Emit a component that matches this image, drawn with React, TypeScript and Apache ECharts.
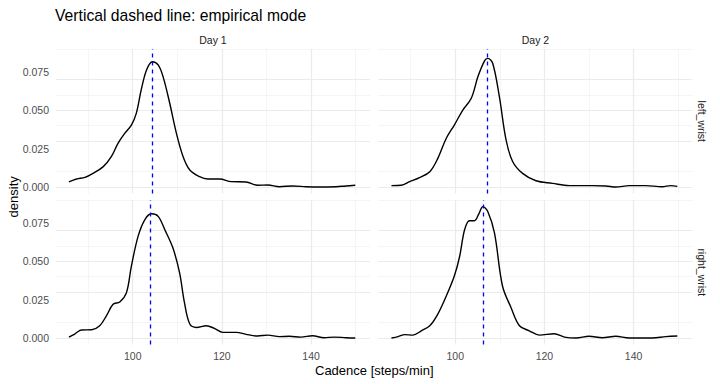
import React, { useEffect, useRef } from "react";
import * as echarts from "echarts";

// ---- Data ----
const days = ["Day 1", "Day 2"];
const wrists = ["left_wrist", "right_wrist"];
const xTickLabels = [100, 120, 140];
const yTickLabels = [0, 0.025, 0.05, 0.075];
const xGridMajor = [100, 120, 140];
const xGridMinor = [90, 110, 130, 150];
const yGridMajor = [0, 0.025, 0.05, 0.075];
const yGridMinor = [0.0125, 0.0375, 0.0625, 0.0875];

const leftDay1X = [85.7, 87.4, 89.3, 91.1, 93.4, 95.2, 96.7, 98.2, 99.7, 100.8, 101.9, 103.1, 104.4, 105.7, 106.8, 108.3, 109.8, 111.3, 112.8, 115.0, 116.8, 119.5, 122.1, 125.4, 128.0, 130.3, 132.9, 135.9, 138.9, 141.8, 145.6, 147.8, 149.9];
const leftDay1Y = [0.0033, 0.0052, 0.0063, 0.0089, 0.0133, 0.0198, 0.0285, 0.035, 0.0404, 0.048, 0.0633, 0.0763, 0.0817, 0.0796, 0.072, 0.0546, 0.035, 0.0198, 0.0111, 0.0067, 0.0052, 0.0052, 0.0035, 0.0033, 0.0011, 0.0013, 0.0002, 0.0007, 0.0002, 0.0, 0.0002, 0.0007, 0.0011];

const leftDay2X = [85.7, 87.9, 89.8, 92.0, 94.3, 96.1, 98.0, 99.8, 101.7, 103.6, 105.1, 106.6, 107.3, 108.4, 109.9, 111.4, 112.9, 115.1, 118.1, 121.8, 125.6, 130.8, 133.8, 136.0, 139.0, 142.7, 146.4, 148.3, 149.8];
const leftDay2Y = [0.0009, 0.0011, 0.0035, 0.0061, 0.01, 0.0187, 0.0318, 0.0404, 0.0502, 0.0579, 0.072, 0.0824, 0.0839, 0.0807, 0.0589, 0.0307, 0.0165, 0.0089, 0.0041, 0.0024, 0.0009, 0.0009, 0.0007, 0.0, 0.0009, 0.0009, 0.0002, 0.0009, 0.0004];

const rightDay1X = [85.7, 87.0, 88.5, 90.8, 92.6, 94.1, 95.6, 97.1, 98.6, 99.7, 101.2, 102.7, 104.2, 105.7, 107.2, 109.0, 110.5, 111.6, 112.8, 114.3, 116.5, 118.3, 120.2, 123.2, 125.4, 128.0, 130.3, 132.9, 135.1, 137.7, 140.3, 142.9, 145.2, 147.8, 149.9];
const rightDay1Y = [0.0006, 0.0026, 0.0052, 0.0054, 0.008, 0.0145, 0.022, 0.0235, 0.0296, 0.0469, 0.0663, 0.0771, 0.081, 0.0793, 0.0706, 0.0588, 0.0426, 0.0231, 0.0091, 0.0069, 0.008, 0.0063, 0.0037, 0.0037, 0.0024, 0.0013, 0.0019, 0.0009, 0.0011, 0.0006, 0.0015, 0.0002, 0.0006, 0.0002, 0.0];

const rightDay2X = [85.7, 87.2, 88.7, 90.5, 92.4, 94.3, 96.1, 98.0, 99.8, 101.0, 102.1, 103.2, 104.3, 105.3, 106.2, 107.3, 108.8, 110.6, 112.5, 114.4, 116.6, 118.9, 122.2, 124.5, 127.1, 130.0, 133.0, 136.0, 139.0, 144.2, 147.2, 149.8];
const rightDay2Y = [0.0, 0.0009, 0.0022, 0.0019, 0.0047, 0.008, 0.0156, 0.0274, 0.0404, 0.0533, 0.0706, 0.0765, 0.0765, 0.081, 0.0857, 0.0825, 0.0685, 0.0339, 0.0199, 0.008, 0.0047, 0.0019, 0.0028, 0.0006, 0.0, 0.0011, 0.0002, 0.0011, 0.0, 0.0, 0.0009, 0.0013];

const modeValues = [104.4, 107.1, 104.0, 106.3]; // left D1, left D2, right D1, right D2

const xRange = [82.8, 153.2];
const yRange = [-0.0043, 0.09];

// ---- Layout ----
const FONT = "'Liberation Sans', Arial, Helvetica, sans-serif";
const colLeft = [56, 378.5];
const rowTop = [49, 200];
const PW = 314;
const PH = 144.6;

const panels = [
  { row: 0, col: 0, xs: leftDay1X, ys: leftDay1Y, mode: modeValues[0] },
  { row: 0, col: 1, xs: leftDay2X, ys: leftDay2Y, mode: modeValues[1] },
  { row: 1, col: 0, xs: rightDay1X, ys: rightDay1Y, mode: modeValues[2] },
  { row: 1, col: 1, xs: rightDay2X, ys: rightDay2Y, mode: modeValues[3] },
];

const MAJOR = { color: "#EBEBEB", width: 1.2, type: "solid" };
const MINOR = { color: "#EFEFEF", width: 0.6, type: "solid" };

function buildOption() {
  const grid = panels.map((p) => ({
    left: colLeft[p.col],
    top: rowTop[p.row],
    width: PW,
    height: PH,
    containLabel: false,
    outerBoundsMode: "none",
  }));
  const xAxis = panels.map((p, i) => ({
    type: "value",
    gridIndex: i,
    min: xRange[0],
    max: xRange[1],
    axisLine: { show: false },
    axisTick: { show: false },
    splitLine: { show: false },
    axisLabel: {
      show: p.row === 1,
      customValues: xTickLabels,
      color: "#4D4D4D",
      fontSize: 10.5,
      fontFamily: FONT,
      margin: 6,
    },
  }));
  const yAxis = panels.map((p, i) => ({
    type: "value",
    gridIndex: i,
    min: yRange[0],
    max: yRange[1],
    axisLine: { show: false },
    axisTick: { show: false },
    splitLine: { show: false },
    axisLabel: {
      show: p.col === 0,
      customValues: yTickLabels,
      formatter: (v: number) => v.toFixed(3),
      color: "#4D4D4D",
      fontSize: 10.5,
      fontFamily: FONT,
      margin: 7,
    },
  }));
  const series: any[] = [];
  panels.forEach((p, i) => {
    const gridLines = [
      ...xGridMinor.map((v) => ({ xAxis: v, lineStyle: MINOR })),
      ...yGridMinor.map((v) => ({ yAxis: v, lineStyle: MINOR })),
      ...xGridMajor.map((v) => ({ xAxis: v, lineStyle: MAJOR })),
      ...yGridMajor.map((v) => ({ yAxis: v, lineStyle: MAJOR })),
    ];
    series.push({
      type: "line",
      xAxisIndex: i,
      yAxisIndex: i,
      data: p.xs.map((x, k) => [x, p.ys[k]]),
      showSymbol: false,
      symbol: "none",
      smooth: 0.35,
      z: 3,
      lineStyle: { color: "#000000", width: 1.4 },
      silent: true,
      markLine: {
        z: 1,
        silent: true,
        symbol: ["none", "none"],
        label: { show: false },
        data: gridLines,
        animation: false,
      },
    });
    series.push({
      type: "line",
      xAxisIndex: i,
      yAxisIndex: i,
      data: [[p.mode, 0]],
      showSymbol: false,
      symbol: "none",
      lineStyle: { opacity: 0 },
      silent: true,
      z: 4,
      markLine: {
        z: 6,
        silent: true,
        symbol: ["none", "none"],
        label: { show: false },
        data: [{ xAxis: p.mode }],
        lineStyle: { color: "#0000FF", width: 1.3, type: [4, 4] },
        animation: false,
      },
    });
  });

  const textStyle = (text: string, size: number, color: string, align = "center") => ({
    text,
    fontSize: size,
    fontFamily: FONT,
    fill: color,
    align,
    verticalAlign: "middle",
  });

  const graphic: any[] = [
    { type: "text", x: 55, y: 15, style: textStyle("Vertical dashed line: empirical mode", 15.7, "#000000", "left") },
    ...days.map((d, c) => ({
      type: "text",
      x: colLeft[c] + PW / 2,
      y: 39.5,
      style: textStyle(d, 10.5, "#1A1A1A"),
    })),
    ...wrists.map((w, r) => ({
      type: "text",
      x: 702,
      y: rowTop[r] + PH / 2,
      rotation: -Math.PI / 2,
      style: textStyle(w, 10.5, "#1A1A1A"),
    })),
    { type: "text", x: 13, y: rowTop[0] + (rowTop[1] + PH - rowTop[0]) / 2, rotation: Math.PI / 2, style: textStyle("density", 13, "#000000") },
    { type: "text", x: colLeft[0] + (colLeft[1] + PW - colLeft[0]) / 2, y: 370, style: textStyle("Cadence [steps/min]", 13, "#000000") },
  ];

  return {
    animation: false,
    backgroundColor: "#FFFFFF",
    grid,
    xAxis,
    yAxis,
    series,
    graphic,
  };
}

export default function App() {
  const ref = useRef<HTMLDivElement>(null);
  useEffect(() => {
    if (!ref.current) return;
    const chart = echarts.init(ref.current, undefined, { renderer: "svg" });
    chart.setOption(buildOption() as any);
    return () => chart.dispose();
  }, []);
  return (
    <div
      ref={ref}
      style={{ position: "fixed", left: 0, top: 0, width: 720, height: 384, background: "#FFFFFF" }}
    />
  );
}
